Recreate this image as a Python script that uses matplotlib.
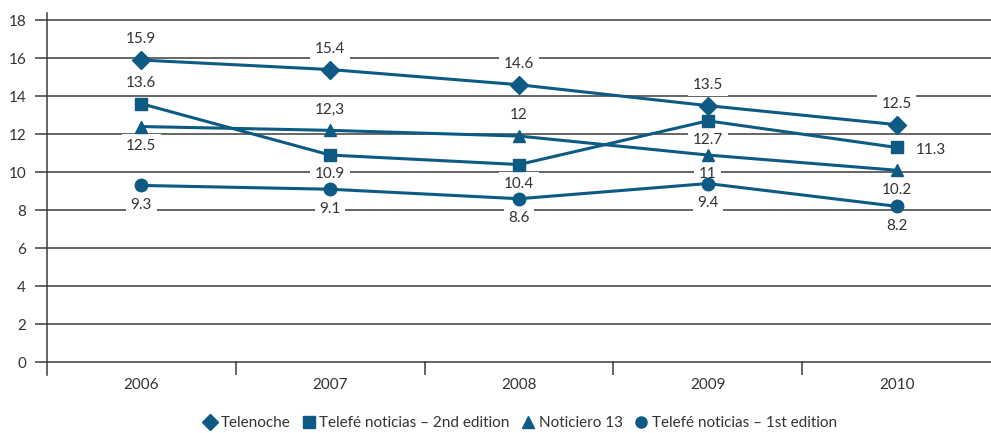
import matplotlib
matplotlib.use('Agg')
from matplotlib import pyplot as plt
from matplotlib.lines import Line2D

years = ['2006', '2007', '2008', '2009', '2010']

telenoche = [15.9, 15.4, 14.6, 13.5, 12.5]
telenoche_labels = ['15.9', '15.4', '14.6', '13.5', '12.5']

telefe_2nd = [13.6, 10.9, 10.4, 12.7, 11.3]
telefe_2nd_labels = ['13.6', '10.9', '10.4', '12.7', '11.3']

noticiero = [12.4, 12.2, 11.9, 10.9, 10.1]
noticiero_labels = ['12.5', '12,3', '12', '11', '10.2']

telefe_1st = [9.3, 9.1, 8.6, 9.4, 8.2]
telefe_1st_labels = ['9.3', '9.1', '8.6', '9.4', '8.2']

# where each label sits: 'a' above, 'b' below, 'r' right
telenoche_pos = ['a', 'a', 'a', 'a', 'a']
telefe_2nd_pos = ['a', 'b', 'b', 'b', 'r']
noticiero_pos = ['b', 'a', 'a', 'b', 'b']
telefe_1st_pos = ['b', 'b', 'b', 'b', 'b']

COLOR = '#0d5a84'
GRID = '#3c3c3c'
TEXT = '#333333'


def main():
    plt.rcParams['font.family'] = ['Lato', 'DejaVu Sans']
    fig = plt.figure(figsize=(9.91, 4.33), dpi=100)
    ax = fig.add_axes([0.0474, 0.133, 0.9526, 0.838])
    x = list(range(len(years)))

    ax.set_xlim(-0.5, 4.5)
    ax.set_ylim(-0.7, 18.4)

    for v in range(0, 19, 2):
        ax.axhline(v, color=GRID, lw=1.1, zorder=1, clip_on=False)

    # category boundary ticks below the zero line
    for b in [0.5, 1.5, 2.5, 3.5]:
        ax.plot([b, b], [-0.7, 0], color=GRID, lw=1.1, zorder=1)

    for sp in ['top', 'right', 'bottom']:
        ax.spines[sp].set_visible(False)
    ax.spines['left'].set_color(GRID)
    ax.spines['left'].set_linewidth(1.1)

    ax.set_yticks(range(0, 19, 2))
    ax.tick_params(axis='y', length=9, width=1.1, color=GRID, pad=6,
                   labelsize=11, labelcolor=TEXT)
    ax.set_xticks(x)
    ax.set_xticklabels(years)
    ax.tick_params(axis='x', length=0, pad=2, labelsize=11, labelcolor=TEXT)

    series = [
        (telenoche, telenoche_labels, telenoche_pos, 'D', 9),
        (telefe_2nd, telefe_2nd_labels, telefe_2nd_pos, 's', 9),
        (noticiero, noticiero_labels, noticiero_pos, '^', 9),
        (telefe_1st, telefe_1st_labels, telefe_1st_pos, 'o', 9),
    ]
    for vals, labs, pos, mk, ms in series:
        ax.plot(x, vals, color=COLOR, lw=2.2, marker=mk, markersize=ms,
                zorder=3, clip_on=False)
        for xi, v, lab, p in zip(x, vals, labs, pos):
            if p == 'a':
                off, ha, va = (0, 15), 'center', 'center'
            elif p == 'b':
                off, ha, va = (0, -14), 'center', 'center'
            else:
                off, ha, va = (14, -2), 'left', 'center'
            ax.annotate(lab, (xi, v), xytext=off, textcoords='offset points',
                        ha=ha, va=va, fontsize=11, color=TEXT, zorder=2,
                        bbox=dict(boxstyle='square,pad=0.3', fc='white',
                                  ec='none'))

    handles = [
        Line2D([], [], color=COLOR, marker='D', ls='none', markersize=8),
        Line2D([], [], color=COLOR, marker='s', ls='none', markersize=8),
        Line2D([], [], color=COLOR, marker='^', ls='none', markersize=8),
        Line2D([], [], color=COLOR, marker='o', ls='none', markersize=8),
    ]
    names = ['Telenoche', 'Telefé noticias – 2nd edition', 'Noticiero 13',
             'Telefé noticias – 1st edition']
    fig.legend(handles, names, loc='center', bbox_to_anchor=(0.525, 0.023),
               ncol=4, frameon=False, fontsize=11, handlelength=0.8,
               handletextpad=0.3, columnspacing=0.8, labelcolor=TEXT)

    fig.savefig('out.png', dpi=100)


if __name__ == '__main__':
    main()
